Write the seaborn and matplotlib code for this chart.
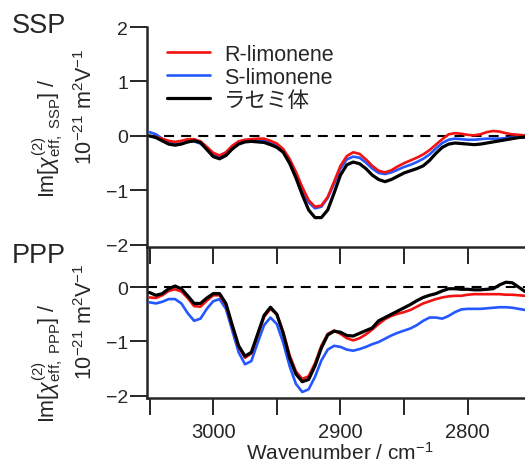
import matplotlib
matplotlib.use("Agg")
import matplotlib.pyplot as plt
import numpy as np
import pandas as pd
import seaborn as sns

sns.set_style("ticks")
plt.rcParams['font.family'] = ['Liberation Sans', 'Noto Sans CJK JP', 'DejaVu Sans']
plt.rcParams['mathtext.fontset'] = 'custom'
plt.rcParams['mathtext.rm'] = 'Liberation Sans'
plt.rcParams['mathtext.it'] = 'Liberation Sans:italic'
plt.rcParams['mathtext.bf'] = 'Liberation Sans:bold'

# wavenumber grid (cm-1), 3050 -> 2755 every 5
wn = list(range(3050, 2754, -5))

ssp_r = [0.0, -0.02, -0.05, -0.09, -0.11, -0.09, -0.06, -0.06, -0.10, -0.20,
         -0.31, -0.36, -0.30, -0.18, -0.10, -0.07, -0.06, -0.05, -0.05, -0.09,
         -0.14, -0.24, -0.42, -0.66, -0.94, -1.18, -1.30, -1.28, -1.12, -0.84,
         -0.55, -0.37, -0.30, -0.33, -0.43, -0.55, -0.64, -0.67, -0.63, -0.56,
         -0.50, -0.45, -0.40, -0.34, -0.26, -0.16, -0.06, 0.03, 0.05, 0.04,
         0.02, 0.01, 0.03, 0.07, 0.09, 0.08, 0.05, 0.03, 0.02, 0.01]
ssp_s = [0.07, 0.03, -0.05, -0.12, -0.15, -0.14, -0.11, -0.10, -0.14, -0.24,
         -0.34, -0.38, -0.33, -0.20, -0.11, -0.08, -0.07, -0.08, -0.09, -0.12,
         -0.18, -0.28, -0.46, -0.70, -0.98, -1.22, -1.33, -1.30, -1.14, -0.88,
         -0.60, -0.43, -0.38, -0.40, -0.49, -0.60, -0.68, -0.70, -0.67, -0.62,
         -0.57, -0.53, -0.48, -0.42, -0.34, -0.23, -0.13, -0.07, -0.05, -0.06,
         -0.07, -0.07, -0.06, -0.05, -0.05, -0.05, -0.04, -0.03, -0.03, -0.03]
ssp_rac = [0.0, -0.03, -0.09, -0.15, -0.17, -0.15, -0.11, -0.09, -0.12, -0.25,
           -0.38, -0.42, -0.36, -0.24, -0.15, -0.11, -0.10, -0.11, -0.12, -0.16,
           -0.21, -0.30, -0.50, -0.77, -1.08, -1.36, -1.50, -1.50, -1.36, -1.05,
           -0.72, -0.53, -0.48, -0.51, -0.60, -0.72, -0.80, -0.84, -0.80, -0.74,
           -0.68, -0.64, -0.60, -0.55, -0.45, -0.32, -0.21, -0.15, -0.13, -0.14,
           -0.15, -0.16, -0.15, -0.13, -0.11, -0.09, -0.07, -0.05, -0.03, -0.02]

ppp_r = [-0.19, -0.20, -0.15, -0.07, -0.04, -0.08, -0.20, -0.35, -0.36, -0.25,
         -0.15, -0.15, -0.33, -0.72, -1.10, -1.30, -1.22, -0.88, -0.55, -0.40,
         -0.50, -0.82, -1.25, -1.55, -1.69, -1.64, -1.40, -1.08, -0.86, -0.80,
         -0.86, -0.94, -0.98, -0.94, -0.87, -0.78, -0.68, -0.59, -0.53, -0.49,
         -0.46, -0.42, -0.36, -0.30, -0.26, -0.22, -0.19, -0.17, -0.16, -0.16,
         -0.14, -0.13, -0.13, -0.13, -0.13, -0.13, -0.14, -0.14, -0.15, -0.16]
ppp_s = [-0.28, -0.30, -0.27, -0.22, -0.22, -0.30, -0.48, -0.62, -0.58, -0.40,
         -0.26, -0.22, -0.40, -0.80, -1.20, -1.42, -1.36, -1.02, -0.70, -0.56,
         -0.68, -1.02, -1.45, -1.78, -1.93, -1.88, -1.65, -1.35, -1.15, -1.08,
         -1.10, -1.15, -1.17, -1.14, -1.10, -1.05, -1.01, -0.95, -0.89, -0.84,
         -0.80, -0.76, -0.70, -0.62, -0.56, -0.56, -0.58, -0.53, -0.46, -0.41,
         -0.40, -0.40, -0.40, -0.39, -0.38, -0.37, -0.37, -0.38, -0.40, -0.42]
ppp_rac = [-0.10, -0.15, -0.12, -0.03, 0.02, -0.03, -0.16, -0.30, -0.30, -0.20,
           -0.12, -0.12, -0.30, -0.70, -1.08, -1.27, -1.20, -0.86, -0.52, -0.37,
           -0.50, -0.85, -1.30, -1.60, -1.74, -1.70, -1.45, -1.12, -0.88, -0.81,
           -0.83, -0.89, -0.90, -0.85, -0.80, -0.75, -0.62, -0.56, -0.50, -0.44,
           -0.38, -0.32, -0.25, -0.19, -0.15, -0.12, -0.07, -0.03, -0.03, -0.04,
           -0.04, -0.05, -0.05, -0.04, -0.03, 0.04, 0.09, 0.08, 0.0, -0.08]

labels = ["R-limonene", "S-limonene", "ラセミ体"]
colors = {"R-limonene": "#f21212", "S-limonene": "#2457ff", "ラセミ体": "black"}
widths = {"R-limonene": 1.9, "S-limonene": 1.9, "ラセミ体": 2.3}
draw_order = ["S-limonene", "R-limonene", "ラセミ体"]
xticks = [3050, 3000, 2950, 2900, 2850, 2800]

ssp = pd.DataFrame({"wn": wn * 3, "val": ssp_r + ssp_s + ssp_rac,
                    "sample": np.repeat(labels, len(wn))})
ppp = pd.DataFrame({"wn": wn * 3, "val": ppp_r + ppp_s + ppp_rac,
                    "sample": np.repeat(labels, len(wn))})

fig = plt.figure(figsize=(5.25, 4.64), dpi=100)
ax1 = fig.add_axes([0.28, 0.4655, 0.72, 0.4741])
ax2 = fig.add_axes([0.28, 0.1401, 0.72, 0.3233])
# let the top panel's bottom ticks show through the lower panel
ax2.patch.set_visible(False)
ax1.set_zorder(3)
ax1.patch.set_visible(False)

for ax, df in [(ax1, ssp), (ax2, ppp)]:
    ax.axhline(0, color="black", lw=1.5, dashes=(4.8, 3.4), zorder=1)
    for s in draw_order:
        sns.lineplot(data=df[df["sample"] == s], x="wn", y="val", color=colors[s],
                     lw=widths[s], label=s, errorbar=None, ax=ax, zorder=3)
    ax.set_xlim(3052, 2755)
    ax.set_xlabel("")
    ax.set_ylabel("")
    ax.spines["right"].set_visible(False)
    ax.spines["top"].set_visible(False)
    for sp in ax.spines.values():
        sp.set_linewidth(1.8)
    ax.set_xticks(xticks)
    ax.tick_params(axis="y", direction="out", length=12, width=1.4, pad=1.5,
                   labelsize=14)
    ax.tick_params(axis="x", direction="out", length=12, width=1.4)

# top panel: its bottom ticks point down into the lower panel
ax1.set_ylim(-2.04, 2.0)
ax1.set_yticks([2, 1, 0, -1, -2])
ax1.tick_params(axis="x", labelbottom=False)
h, l = ax1.get_legend_handles_labels()
hd = dict(zip(l, h))
ax1.legend([hd[s] for s in labels], labels, loc="upper left",
           bbox_to_anchor=(0.318, 0.904), bbox_transform=fig.transFigure,
           frameon=False, fontsize=15.5, handlelength=2.0, handletextpad=0.65,
           labelspacing=0.1, borderpad=0, borderaxespad=0)

# bottom panel
ax2.set_ylim(-2.04, 0.72)
ax2.set_yticks([0, -1, -2])
ax2.get_legend().remove()
ax2.set_xticklabels(["", "3000", "", "2900", "", "2800"])
ax2.tick_params(axis="x", pad=5, labelsize=14.5)

fig.text(0.022, 1 - 33 / 464, "SSP", fontsize=19.5, va="baseline", ha="left")
fig.text(0.022, 1 - 263 / 464, "PPP", fontsize=19.5, va="baseline", ha="left")

fig.text(0.0905, 0.7026, r"Im[$\chi^{(2)}_{\mathrm{eff,\ SSP}}$] /", rotation=90,
         fontsize=15.5, ha="center", va="center")
fig.text(0.162, 0.7694, r"10$^{\mathrm{-21}}$ m$^{\mathrm{2}}$V$^{\mathrm{-1}}$", rotation=90,
         fontsize=15.5, ha="center", va="center")
fig.text(0.0905, 0.2177, r"Im[$\chi^{(2)}_{\mathrm{eff,\ PPP}}$] /", rotation=90,
         fontsize=15.5, ha="center", va="center")
fig.text(0.162, 0.306, r"10$^{\mathrm{-21}}$ m$^{\mathrm{2}}$V$^{\mathrm{-1}}$", rotation=90,
         fontsize=15.5, ha="center", va="center")

fig.text(340 / 525, (464 - 460) / 464, r"Wavenumber / cm$^{\mathrm{-1}}$",
         fontsize=15, ha="center", va="baseline")

fig.savefig("out.png", dpi=100)
